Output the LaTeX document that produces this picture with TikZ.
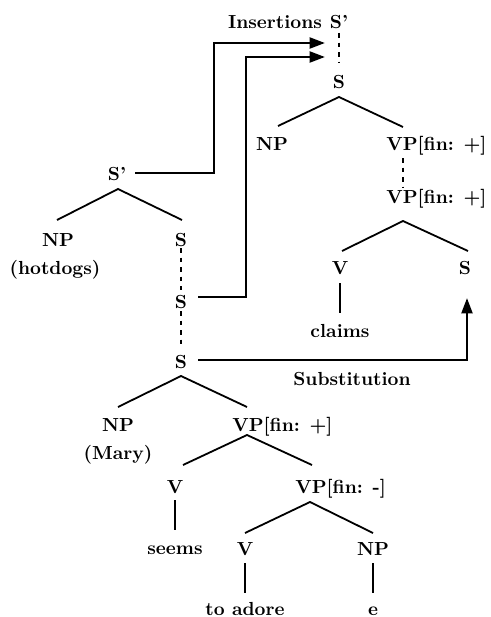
\documentclass[tikz,border=0pt]{standalone}
\usetikzlibrary{calc,arrows.meta}
\begin{document}
\begin{tikzpicture}[x=0.555pt,y=-0.555pt,
  lab/.style={font=\fontsize{10.5}{12}\selectfont\bfseries, inner sep=0pt, text height=7.1pt, text depth=0pt},
  edge/.style={line width=1pt},
  dashline/.style={line width=1pt, dash pattern=on 2.5pt off 2.8pt},
  arr/.style={line width=1.4pt, -{Triangle[length=8.5pt,width=6pt]}}]
\useasboundingbox (0,0) rectangle (491,617);
% upper right tree
\node[lab] (ins) at (275,22) {Insertions};
\node[lab] (sp2) at (339,22) {S'};
\node[lab] (s3) at (339,82) {S};
\node[lab] (np3) at (272,144) {NP};
\node[lab,anchor=west] (vp3) at (386,144) {VP[fin: +]};
\node[lab,anchor=west] (vp4) at (386,197) {VP[fin: +]};
\coordinate (vp3a) at ($(vp3.west)+(17,0)$);
\coordinate (vp4a) at ($(vp4.west)+(17,0)$);
\node[lab] (v3) at (340,268) {V};
\node[lab] (s4) at (465,268) {S};
\node[lab] (claims) at (340,331) {claims};
% left tree
\node[lab] (sp1) at (117,174) {S'};
\node[lab] (np1) at (58,240) {NP};
\node[lab] (hot) at (55,268) {(hotdogs)};
\node[lab] (s1a) at (181,240) {S};
\node[lab] (s1b) at (181,302) {S};
\node[lab] (s1c) at (181,362) {S};
\node[lab] (np2) at (118,425) {NP};
\node[lab] (mary) at (118,453) {(Mary)};
\node[lab,anchor=west] (vp1) at (232,425) {VP[fin: +]};
\node[lab,anchor=west] (vp2) at (295,487) {VP[fin: -]};
\coordinate (vp1a) at ($(vp1.west)+(15,0)$);
\coordinate (vp2a) at ($(vp2.west)+(15,0)$);
\node[lab] (v1) at (175,487) {V};
\node[lab] (seems) at (175,548) {seems};
\node[lab] (v2) at (245,549) {V};
\node[lab] (np4) at (373,549) {NP};
\node[lab] (adore) at (245,609) {to adore};
\node[lab] (e) at (373,609) {e};
\node[lab] (subst) at (352,379) {Substitution};
% upper right tree edges
\draw[dashline] ($(sp2)+(0,11)$) -- ($(s3)+(0,-19)$);
\draw[edge] ($(np3)+(6,-18)$) -- ($(s3)+(0,15)$) -- ($(vp3a)+(0,-17)$);
\draw[dashline] ($(vp3a)+(0,14)$) -- ($(vp4a)+(0,-10)$);
\draw[edge] ($(v3)+(2,-17)$) -- ($(vp4a)+(0,24)$) -- ($(s4)+(3,-17)$);
\draw[edge] ($(v3)+(0,15)$) -- ($(claims)+(0,-18)$);
% left tree edges
\draw[edge] ($(np1)+(-1,-20)$) -- ($(sp1)+(1,15)$) -- ($(s1a)+(1,-20)$);
\draw[dashline] ($(s1a)+(0,8)$) -- ($(s1b)+(0,-12)$);
\draw[dashline] ($(s1b)+(0,9)$) -- ($(s1c)+(0,-14)$);
\draw[edge] ($(np2)+(0,-18)$) -- ($(s1c)+(0,14)$) -- ($(vp1a)+(0,-18)$);
\draw[edge] ($(v1)+(8,-22)$) -- ($(vp1a)+(0,10)$) -- ($(vp2a)+(2,-22)$);
\draw[edge] ($(v2)+(0,-16)$) -- ($(vp2a)+(0,15)$) -- ($(np4)+(0,-16)$);
\draw[edge] ($(v1)+(0,13)$) -- ($(seems)+(0,-18)$);
\draw[edge] ($(v2)+(0,14)$) -- ($(adore)+(0,-16)$);
\draw[edge] ($(np4)+(0,14)$) -- ($(e)+(0,-16)$);
% insertion and substitution arrows
\coordinate (t1) at ($(sp2)+(-14,21)$);
\coordinate (t2) at ($(sp2)+(-14,35)$);
\coordinate (t3) at ($(s4)+(2,30)$);
\draw[arr] ($(sp1)+(18,-1)$) -- (214,173) -- (214,43) -- (t1);
\draw[arr] ($(s1b)+(17,-5)$) -- (246,297) -- (246,57) -- (t2);
\draw[arr] ($(s1c)+(17,-2)$) -- (467,360) -- (t3);
\end{tikzpicture}
\end{document}
